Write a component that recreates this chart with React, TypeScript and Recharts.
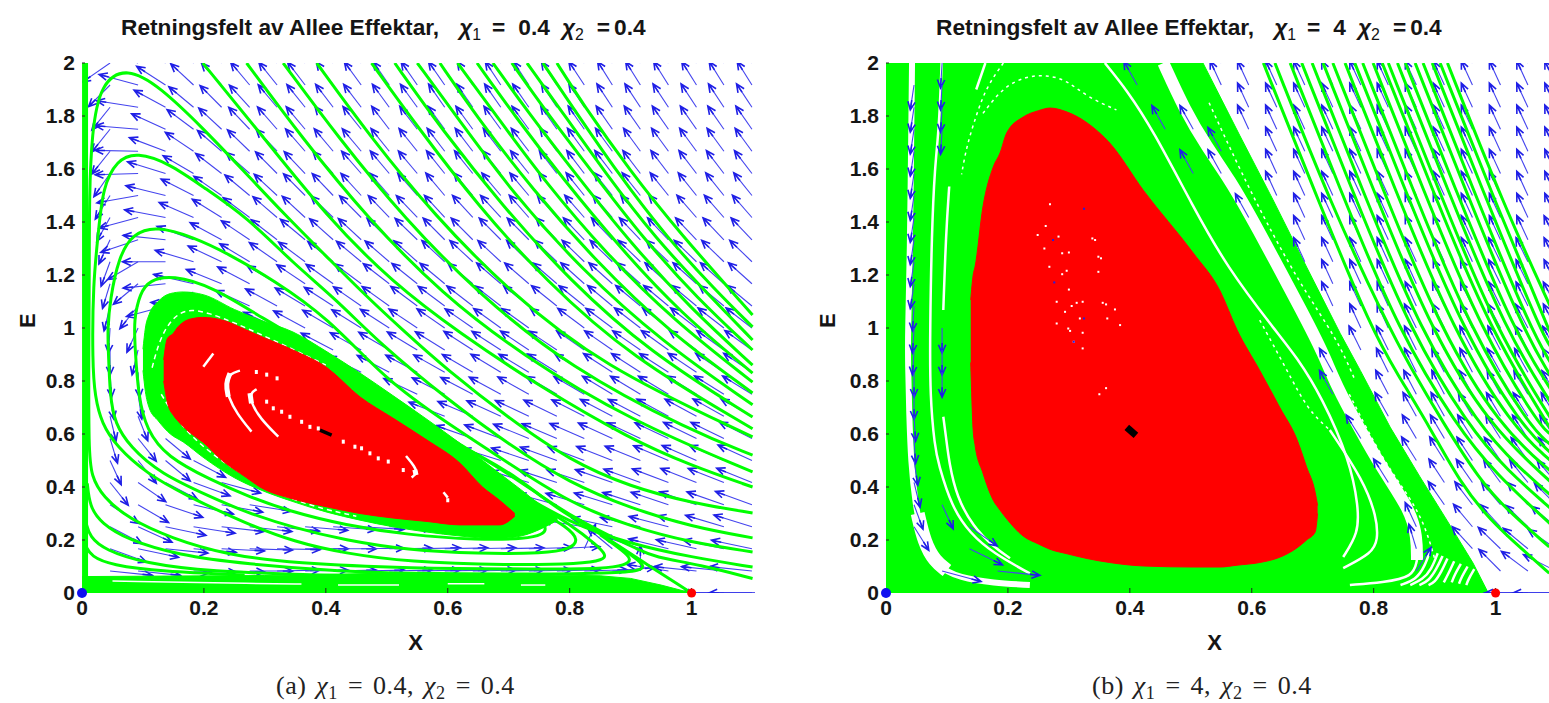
import { ComposedChart, Area, Line, Scatter, XAxis, YAxis, ReferenceDot } from 'recharts';

type Pt = [number, number];
const n = null;

const xTicks = [0, 0.2, 0.4, 0.6, 0.8, 1];
const yTicks = [0, 0.2, 0.4, 0.6, 0.8, 1, 1.2, 1.4, 1.6, 1.8, 2];

// quiver grid
const arrowXs = [0, 0.046, 0.092, 0.137, 0.183, 0.229, 0.275, 0.32, 0.366, 0.412, 0.458, 0.504, 0.55, 0.595, 0.641, 0.687, 0.733, 0.779, 0.824, 0.87, 0.916, 0.962, 1.008, 1.053, 1.099];
const arrowYs = [2, 1.917, 1.833, 1.75, 1.667, 1.583, 1.5, 1.417, 1.333, 1.25, 1.167, 1.083, 1, 0.917, 0.833, 0.75, 0.667, 0.583, 0.5, 0.417, 0.333, 0.25, 0.167, 0.083, 0];

// direction (degrees) per row, columns 1..24
const anglesA = [
  [-130, 150, 128, 120, 117, 115, 114, 113, 113, 112, 112, 112, 111, 111, 111, 111, 110, 110, 110, 110, 110, 110, 110, 110],
  [-120, 155, 132, 122, 118, 116, 115, 114, 113, 113, 112, 112, 112, 111, 111, 111, 111, 111, 110, 110, 110, 110, 110, 110],
  [-115, 165, 137, 125, 120, 118, 116, 115, 114, 114, 113, 113, 112, 112, 112, 112, 111, 111, 111, 111, 111, 111, 111, 111],
  [-115, 172, 142, 128, 122, 119, 117, 116, 115, 115, 114, 114, 113, 113, 113, 113, 112, 112, 112, 112, 112, 112, 112, 112],
  [-115, 178, 147, 131, 124, 121, 119, 117, 116, 116, 115, 115, 114, 114, 114, 114, 113, 113, 113, 113, 113, 113, 113, 113],
  [-112, 183, 152, 135, 127, 123, 120, 119, 118, 117, 116, 116, 115, 115, 115, 115, 114, 114, 114, 114, 114, 114, 114, 114],
  [-110, 197, 157, 139, 130, 125, 122, 120, 119, 118, 117, 117, 116, 116, 116, 116, 115, 115, 115, 115, 115, 115, 115, 115],
  [-108, 205, 162, 143, 133, 128, 124, 122, 121, 120, 119, 119, 118, 118, 118, 117, 117, 117, 117, 117, 117, 117, 117, 117],
  [-105, 210, 170, 148, 137, 131, 127, 125, 123, 122, 121, 121, 120, 120, 120, 120, 119, 119, 119, 119, 119, 119, 119, 119],
  [-102, 225, 180, 153, 141, 134, 130, 128, 126, 125, 124, 123, 122, 122, 122, 121, 121, 121, 121, 121, 121, 121, 121, 121],
  [-100, 235, 190, 158, 145, 138, 134, 131, 129, 128, 127, 126, 125, 125, 124, 124, 124, 123, 123, 123, 123, 123, 123, 123],
  [-98, 245, 205, 172, 150, 142, 137, 134, 132, 130, 129, 128, 128, 127, 127, 126, 126, 126, 125, 125, 125, 125, 125, 125],
  [-92, -105, -115, 180, 155, 147, 141, 137, 135, 133, 132, 131, 130, 130, 129, 129, 128, 128, 128, 127, 127, 127, 127, 127],
  [-90, -98, -100, n, n, n, n, 142, 138, 136, 135, 134, 133, 132, 132, 131, 131, 130, 130, 130, 129, 129, 129, 129],
  [-88, -88, -85, n, n, n, n, n, n, 140, 138, 137, 136, 135, 134, 134, 133, 133, 132, 132, 132, 131, 131, 131],
  [-85, -85, n, n, n, n, n, n, n, n, 142, 141, 139, 138, 137, 136, 135, 135, 134, 134, 134, 133, 133, 133],
  [-82, -77, n, n, n, n, n, n, n, n, n, n, 146, 144, 142, 141, 140, 139, 138, 138, 137, 137, 136, 136],
  [-80, -65, -55, n, n, n, n, n, n, n, n, n, n, 149, 147, 145, 144, 143, 142, 141, 141, 140, 140, 139],
  [-75, -65, -55, -42, n, n, n, n, n, n, n, n, n, n, 152, 150, 148, 147, 146, 145, 144, 143, 143, 142],
  [-65, -50, -42, -32, -25, n, n, n, n, n, n, n, n, n, n, 153, 151, 150, 149, 148, 147, 146, 146, 145],
  [-48, -45, -30, -22, -17, -15, n, n, n, n, n, n, n, n, n, n, 155, 153, 152, 151, 150, 149, 149, 148],
  [-42, -38, -20, -15, -11, -11, -10, -8, -7, -6, -5, -5, -4, -3, n, n, n, 165, 160, 158, 156, 154, 153, 152],
  [-32, -20, -10, -8, -5, -3, -2, 0, 0, 1, 1, 2, 2, 2, 2, 3, 5, 75, 125, 150, 157, 159, 160, 160],
  [-10, -10, -5, -3, -2, 0, 2, 2, 2, 2, 2, 2, 2, 2, 2, 2, 3, 3, 8, 90, 165, 170, 170, 170],
  [n, n, n, n, n, n, n, n, n, n, n, n, n, n, n, n, n, n, n, n, n, n, 180, 180],
];

const anglesB = [
  [n, n, n, n, n, n, n, n, n, n, n, 105, 105, 105, 105, 105, 105, 105, 105, 105, 105, 105, 105, 105],
  [n, n, n, n, n, n, n, n, n, n, n, 105, 105, 105, 105, 105, 105, 105, 105, 105, 105, 105, 105, 105],
  [n, n, n, n, n, n, n, n, n, n, n, n, 105, 105, 105, 105, 105, 105, 105, 105, 105, 105, 105, 105],
  [n, n, n, n, n, n, n, n, n, n, n, n, 105, 105, 105, 105, 105, 105, 105, 105, 105, 105, 105, 105],
  [n, n, n, n, n, n, n, n, n, n, n, n, n, 105, 105, 105, 105, 105, 105, 105, 105, 105, 105, 105],
  [n, n, n, n, n, n, n, n, n, n, n, n, n, 105, 105, 105, 105, 105, 105, 105, 105, 105, 105, 105],
  [n, n, n, n, n, n, n, n, n, n, n, n, n, 105, 105, 105, 105, 105, 105, 105, 105, 105, 105, 105],
  [n, n, n, n, n, n, n, n, n, n, n, n, n, n, 105, 105, 105, 105, 105, 105, 105, 105, 105, 105],
  [n, n, n, n, n, n, n, n, n, n, n, n, n, n, 105, 105, 105, 105, 105, 105, 105, 105, 105, 106],
  [n, n, n, n, n, n, n, n, n, n, n, n, n, n, 105, 105, 105, 105, 105, 105, 105, 106, 106, 106],
  [n, n, n, n, n, n, n, n, n, n, n, n, n, n, n, 105, 105, 105, 105, 105, 106, 106, 106, 106],
  [n, n, n, n, n, n, n, n, n, n, n, n, n, n, n, 105, 105, 105, 105, 106, 106, 106, 106, 107],
  [n, n, n, n, n, n, n, n, n, n, n, n, n, n, n, n, 105, 105, 106, 106, 106, 107, 107, 107],
  [n, n, n, n, n, n, n, n, n, n, n, n, n, n, n, n, 106, 106, 106, 106, 107, 107, 107, 108],
  [n, n, n, n, n, n, n, n, n, n, n, n, n, n, n, n, n, 106, 106, 107, 107, 108, 108, 108],
  [n, n, n, n, n, n, n, n, n, n, n, n, n, n, n, n, n, 107, 107, 107, 108, 108, 109, 109],
  [n, n, n, n, n, n, n, n, n, n, n, n, n, n, n, n, n, 108, 108, 108, 109, 109, 110, 110],
  [n, n, n, n, n, n, n, n, n, n, n, n, n, n, n, n, n, n, 109, 109, 110, 110, 111, 112],
  [n, n, n, n, n, n, n, n, n, n, n, n, n, n, n, n, n, n, 110, 110, 111, 112, 113, 114],
  [n, n, n, n, n, n, n, n, n, n, n, n, n, n, n, n, n, n, n, 111, 112, 113, 115, 116],
  [n, n, n, n, n, n, n, n, n, n, n, n, n, n, n, n, n, n, n, 112, 114, 116, 118, 120],
  [n, n, n, n, n, n, n, n, n, n, n, n, n, n, n, n, n, n, n, n, 116, 118, 121, 125],
  [n, n, n, n, n, n, n, n, n, n, n, n, n, n, n, n, n, n, n, n, 118, 121, 125, 130],
  [n, n, n, n, n, n, n, n, n, n, n, n, n, n, n, n, n, n, n, n, n, 120, 128, 139],
  [n, n, n, n, n, n, n, n, n, n, n, n, n, n, n, n, n, n, n, n, n, n, 180, 180],
];

// arrows that show through the white gaps of panel b: x, y, angle
const gapArrowsB = [
  [0.046, 1.917, -95], [0.046, 1.833, -95], [0.046, 1.75, -95], [0.046, 1.667, -95], [0.046, 1.583, -95], [0.046, 1.5, -95], [0.046, 1.417, -95],
  [0.046, 1.333, -95], [0.046, 1.25, -95], [0.046, 1.167, -95], [0.046, 1.083, -92], [0.046, 1, -92], [0.046, 0.917, -92], [0.046, 0.833, -90],
  [0.046, 0.75, -90], [0.046, 0.667, -88], [0.046, 0.583, -88], [0.046, 0.5, -85], [0.046, 0.417, -82], [0.046, 0.333, -78], [0.046, 0.25, -70],
  [0.092, 2, -92], [0.092, 1.917, -92], [0.092, 1.833, -92], [0.092, 1.75, -92], [0.092, 1, -90], [0.092, 0.917, -90], [0.092, 0.833, -90],
  [0.092, 0.333, -75], [0.137, 0.25, -50], [0.137, 0.167, -40], [0.092, 0.083, -25], [0.183, 0.083, -10],
  [0.412, 1.917, 108], [0.458, 1.75, 108], [0.504, 1.75, 108], [0.504, 1.583, 108], [0.55, 1.583, 108], [0.55, 1.667, 108], [0.595, 1.417, 108],
  [0.733, 0.833, 108], [0.733, 0.75, 108], [0.779, 0.583, 110], [0.824, 0.417, 110], [0.87, 0.25, 105], [0.87, 0.167, 100], [0.87, 0.083, 70],
];

// panel a: trajectories coming down from the top edge
const topLinesA: Pt[][] = [
  [[0.198, 2], [0.292, 1.736], [0.402, 1.419], [0.51, 1.17], [0.62, 0.98], [0.75, 0.78], [0.9, 0.58], [1, 0.48], [1.1, 0.4]],
  [[0.27, 2], [0.36, 1.72], [0.47, 1.41], [0.59, 1.13], [0.72, 0.9], [0.9, 0.65], [1.1, 0.457]],
  [[0.33, 2], [0.42, 1.72], [0.53, 1.41], [0.65, 1.13], [0.8, 0.85], [1, 0.61], [1.1, 0.52]],
  [[0.385, 2], [0.47, 1.73], [0.58, 1.42], [0.7, 1.14], [0.85, 0.86], [1.1, 0.589]],
  [[0.475, 2], [0.55, 1.76], [0.65, 1.46], [0.76, 1.18], [0.9, 0.89], [1.1, 0.62]],
  [[0.513, 2], [0.59, 1.75], [0.69, 1.46], [0.8, 1.18], [0.93, 0.91], [1.1, 0.664]],
  [[0.55, 2], [0.62, 1.78], [0.71, 1.5], [0.82, 1.22], [0.95, 0.95], [1.1, 0.71]],
  [[0.587, 2], [0.65, 1.79], [0.74, 1.52], [0.84, 1.26], [0.96, 0.99], [1.1, 0.755]],
  [[0.616, 2], [0.68, 1.8], [0.76, 1.55], [0.86, 1.28], [0.97, 1.03], [1.1, 0.796]],
  [[0.648, 2], [0.71, 1.8], [0.79, 1.56], [0.88, 1.31], [0.98, 1.06], [1.1, 0.83]],
  [[0.674, 2], [0.73, 1.82], [0.81, 1.58], [0.9, 1.32], [1, 1.07], [1.1, 0.86]],
  [[0.705, 2], [0.76, 1.82], [0.84, 1.58], [0.92, 1.34], [1.01, 1.11], [1.1, 0.917]],
  [[0.73, 2], [0.78, 1.84], [0.86, 1.58], [0.94, 1.34], [1.03, 1.12], [1.1, 0.955]],
  [[0.756, 2], [0.8, 1.85], [0.88, 1.58], [0.96, 1.34], [1.04, 1.14], [1.1, 1.004]],
  [[0.779, 2], [0.82, 1.85], [0.9, 1.59], [0.98, 1.36], [1.1, 1.049]],
];

// panel a: curves that peak on the left, fold down and run along the bottom
const foldLinesA: Pt[][] = [
  [[1.1, 0.302], [1, 0.34], [0.9, 0.4], [0.8, 0.5], [0.7, 0.66], [0.6, 0.84], [0.526, 0.992], [0.456, 1.143], [0.402, 1.268], [0.336, 1.419], [0.259, 1.608], [0.198, 1.755], [0.128, 1.91], [0.074, 1.985], [0.03, 1.925], [0.016, 1.735], [0.012, 1.5], [0.012, 1.2], [0.011, 0.9], [0.011, 0.54], [0.0153, 0.439], [0.0344, 0.363], [0.0755, 0.282], [0.1465, 0.2063], [0.2395, 0.143], [0.349, 0.1119], [0.5348, 0.0931], [0.75, 0.09], [0.86, 0.092], [0.89, 0.105], [0.902, 0.125], [0.89, 0.155], [0.85, 0.22]],
  [[1.1, 0.208], [1, 0.25], [0.9, 0.32], [0.8, 0.415], [0.7, 0.56], [0.6, 0.73], [0.489, 0.94], [0.418, 1.106], [0.346, 1.245], [0.27, 1.42], [0.198, 1.533], [0.144, 1.62], [0.09, 1.664], [0.057, 1.634], [0.034, 1.53], [0.027, 1.36], [0.018, 1.17], [0.017, 0.867], [0.0213, 0.741], [0.0322, 0.64], [0.057, 0.552], [0.106, 0.451], [0.169, 0.37], [0.267, 0.264], [0.349, 0.192], [0.431, 0.15], [0.534, 0.117], [0.7, 0.105], [0.82, 0.11], [0.855, 0.125], [0.86, 0.143], [0.845, 0.18], [0.8, 0.26], [0.75, 0.33], [0.7, 0.4]],
  [[1.1, 0.155], [1, 0.19], [0.9, 0.25], [0.8, 0.34], [0.7, 0.49], [0.6, 0.64], [0.5, 0.8], [0.402, 1.042], [0.314, 1.181], [0.238, 1.283], [0.182, 1.343], [0.123, 1.385], [0.084, 1.358], [0.06, 1.268], [0.046, 1.106], [0.042, 0.992], [0.043, 0.93], [0.0459, 0.741], [0.054, 0.64], [0.0787, 0.552], [0.1279, 0.451], [0.212, 0.362], [0.267, 0.306], [0.349, 0.245], [0.431, 0.2], [0.534, 0.162], [0.65, 0.148], [0.76, 0.15], [0.8, 0.165], [0.816, 0.2], [0.795, 0.25], [0.75, 0.31], [0.7, 0.38]],
  [[1.1, 0.098], [1, 0.135], [0.9, 0.185], [0.8, 0.264], [0.7, 0.4], [0.6, 0.566], [0.5, 0.74], [0.4, 0.9], [0.292, 1.042], [0.215, 1.155], [0.148, 1.2], [0.111, 1.181], [0.095, 1.132], [0.085, 1.03], [0.0869, 0.93], [0.0924, 0.741], [0.106, 0.615], [0.1388, 0.514], [0.212, 0.426], [0.267, 0.37], [0.343, 0.306], [0.431, 0.257], [0.534, 0.219], [0.65, 0.2], [0.73, 0.205], [0.755, 0.22], [0.764, 0.245], [0.745, 0.29], [0.7, 0.36], [0.65, 0.44]],
  [[1.1, 0.055], [1.014, 0.106], [0.937, 0.137], [0.915, 0.162], [0.87, 0.21], [0.81, 0.28], [0.75, 0.37], [0.7, 0.45], [0.62, 0.56], [0.55, 0.66]],
  [[0.997, 0.004], [0.903, 0.143], [0.849, 0.226], [0.805, 0.283], [0.767, 0.34], [0.713, 0.438], [0.657, 0.513], [0.603, 0.577]],
  [[0.0087, 0.414], [0.0126, 0.326], [0.0317, 0.2629], [0.0755, 0.2], [0.1575, 0.143], [0.2668, 0.1094], [0.431, 0.0805], [0.5348, 0.0742], [0.7, 0.07], [0.88, 0.075], [0.915, 0.085], [0.923, 0.1], [0.91, 0.13], [0.87, 0.19]],
  [[0.007, 0.2629], [0.0126, 0.2126], [0.0372, 0.1623], [0.1028, 0.1119], [0.212, 0.0805], [0.376, 0.068], [0.5348, 0.0591]],
  [[0.0055, 0.18], [0.0153, 0.1371], [0.048, 0.1057], [0.13, 0.0805], [0.2668, 0.068]],
];

const axisBarA: Pt[] = [[0.005, 0], [0.005, 2]];
const bottomBandA = [[0, 0, 0.062], [0.3, 0, 0.066], [0.5, 0, 0.075], [0.7, 0, 0.07], [0.85, 0, 0.065], [0.9, 0, 0.055], [0.95, 0, 0.03], [1, 0, 0]];
const bottomDashesA: Pt[][] = [
  [[0.05, 0.045], [0.3, 0.035], [0.36, 0.034]],
  [[0.42, 0.03], [0.52, 0.03]],
  [[0.6, 0.035], [0.66, 0.035]],
  [[0.72, 0.03], [0.76, 0.03]],
];
const ringA = [[0.1, 0.84, 0.92], [0.104, 0.76, 1], [0.11, 0.7, 1.05], [0.125, 0.65, 1.1], [0.145, 0.6, 1.13], [0.166, 0.57, 1.136], [0.2, 0.51, 1.125], [0.25, 0.435, 1.07], [0.292, 0.39, 1.03], [0.346, 0.345, 0.985], [0.402, 0.305, 0.91], [0.456, 0.275, 0.83], [0.51, 0.25, 0.745], [0.566, 0.23, 0.655], [0.62, 0.215, 0.565], [0.68, 0.205, 0.46], [0.72, 0.215, 0.39], [0.76, 0.25, 0.32], [0.78, 0.275, 0.295]];
const ringGapsA: Pt[][] = [
  [[0.115, 0.85], [0.13, 0.98], [0.16, 1.07], [0.2, 1.07], [0.3, 0.97], [0.4, 0.86]],
  [[0.13, 0.75], [0.17, 0.6], [0.25, 0.46], [0.35, 0.34], [0.45, 0.29]],
];
const redA = [[0.134, 0.8, 0.88], [0.14, 0.72, 0.96], [0.15, 0.67, 0.98], [0.156, 0.653, 1], [0.165, 0.63, 1.02], [0.18, 0.6, 1.035], [0.198, 0.57, 1.04], [0.23, 0.5, 1.03], [0.27, 0.435, 0.992], [0.292, 0.4, 0.97], [0.346, 0.355, 0.917], [0.402, 0.325, 0.85], [0.456, 0.3, 0.74], [0.51, 0.283, 0.66], [0.566, 0.27, 0.577], [0.62, 0.257, 0.49], [0.657, 0.257, 0.4], [0.685, 0.257, 0.35], [0.71, 0.29, 0.3]];
const whiteArcsA: Pt[][] = [
  [[0.278, 0.609], [0.2537, 0.678], [0.24, 0.741], [0.2356, 0.791], [0.2428, 0.829], [0.2591, 0.839]],
  [[0.322, 0.59], [0.292, 0.659], [0.278, 0.716], [0.2755, 0.754], [0.2865, 0.769]],
  [[0.5315, 0.517], [0.546, 0.477], [0.55, 0.451], [0.5407, 0.436]],
  [[0.199, 0.854], [0.2154, 0.904]],
  [[0.593, 0.38], [0.6, 0.36]],
];
const whiteCrescentsA: Pt[][] = [
  [[0.24, 0.741], [0.2356, 0.791], [0.2428, 0.829]],
  [[0.278, 0.716], [0.2755, 0.754]],
  [[0.546, 0.465], [0.548, 0.445]],
];
const whiteDotsA: Pt[] = [[0.286, 0.834], [0.303, 0.824], [0.32, 0.81], [0.3029, 0.722], [0.3138, 0.697], [0.3275, 0.684], [0.3411, 0.665], [0.3603, 0.646], [0.3739, 0.627], [0.3876, 0.621], [0.4286, 0.571], [0.4477, 0.552], [0.4586, 0.546], [0.4723, 0.527], [0.486, 0.508], [0.5024, 0.496], [0.527, 0.464], [0.6, 0.35]];
const blackA: Pt[] = [[0.3904, 0.615], [0.4095, 0.596]];
const equilibriumLineA: Pt[] = [[1, 0], [1.104, 0]];

// panel b
const bigBandB = [[0, 0, 2], [0.52, 0, 2], [0.58, 0, 1.728], [0.635, 0, 1.483], [0.69, 0, 1.23], [0.745, 0, 0.98], [0.778, 0, 0.84], [0.827, 0, 0.626], [0.876, 0, 0.438], [0.92, 0, 0.275], [0.963, 0, 0.113], [0.988, 0, 0]];
const redB = [[0.139, 0.87, 1.106], [0.143, 0.615, 1.2], [0.146, 0.56, 1.23], [0.159, 0.453, 1.457], [0.176, 0.35, 1.608], [0.187, 0.313, 1.66], [0.198, 0.28, 1.736], [0.225, 0.215, 1.796], [0.25, 0.185, 1.82], [0.269, 0.165, 1.83], [0.297, 0.148, 1.815], [0.33, 0.13, 1.774], [0.367, 0.115, 1.698], [0.422, 0.102, 1.52], [0.504, 0.098, 1.283], [0.548, 0.098, 1.14], [0.576, 0.105, 0.992], [0.613, 0.115, 0.84], [0.646, 0.135, 0.7], [0.674, 0.17, 0.58], [0.69, 0.2, 0.475], [0.704, 0.23, 0.38], [0.708, 0.3, 0.33]];
const stripLeftB: Pt[] = [[0.0427, 2], [0.039, 1.22], [0.036, 0.992], [0.036, 0.868], [0.038, 0.68], [0.041, 0.49], [0.048, 0.34], [0.059, 0.2], [0.084, 0.098], [0.121, 0.057], [0.176, 0.038], [0.236, 0.03]];
const stripBendB: Pt[] = [[0.052, 0.3], [0.063, 0.19], [0.08, 0.12], [0.1, 0.085]];
const gapDiagB: Pt[] = [[0.455, 2], [0.49, 1.823], [0.526, 1.684], [0.564, 1.559], [0.602, 1.408], [0.69, 1.03], [0.717, 0.905], [0.74, 0.777], [0.772, 0.64], [0.815, 0.464], [0.86, 0.313], [0.871, 0.211], [0.871, 0.125]];
const thinGapsB: Pt[][] = [
  [[0.0913, 2], [0.087, 1.75], [0.08, 1.608], [0.075, 1.357], [0.0722, 0.993], [0.0722, 0.74], [0.08, 0.552], [0.0858, 0.489], [0.1077, 0.325], [0.1378, 0.225], [0.176, 0.15], [0.236, 0.074]],
  [[0.359, 2], [0.395, 1.898], [0.438, 1.747], [0.504, 1.457], [0.559, 1.231], [0.638, 0.992], [0.674, 0.89], [0.715, 0.74], [0.761, 0.5], [0.775, 0.325], [0.775, 0.226], [0.75, 0.136]],
  [[0.728, 0.615], [0.783, 0.426], [0.805, 0.287], [0.807, 0.2], [0.797, 0.15], [0.75, 0.094]],
  [[0.871, 0.125], [0.865, 0.06], [0.815, 0.04], [0.761, 0.03]],
  [[0.094, 0.665], [0.0984, 0.59], [0.1037, 0.489], [0.116, 0.363], [0.143, 0.25], [0.176, 0.175], [0.2034, 0.131]],
  [[0.1037, 1.534], [0.0984, 1.357], [0.094, 1.068]],
  [[0.163, 2], [0.148, 1.9]],
];
const dottedGapsB: Pt[][] = [
  [[0.1925, 2], [0.165, 1.91], [0.149, 1.81], [0.132, 1.684], [0.124, 1.58]],
  [[0.159, 1.81], [0.1925, 1.91], [0.23, 1.95], [0.263, 1.955], [0.2963, 1.936], [0.329, 1.873], [0.378, 1.823]],
  [[0.613, 1.03], [0.658, 0.84], [0.692, 0.69], [0.728, 0.615]],
  [[0.76, 0.75], [0.815, 0.5], [0.86, 0.36], [0.885, 0.25], [0.9, 0.13]],
  [[0.53, 1.85], [0.6, 1.5], [0.68, 1.16], [0.74, 0.96], [0.77, 0.8]],
];
const fingersB: Pt[][] = [
  [[0.894, 0.17], [0.884, 0.1], [0.869, 0.05], [0.844, 0.03]],
  [[0.905, 0.15], [0.895, 0.09], [0.88, 0.05], [0.86, 0.03]],
  [[0.913, 0.14], [0.903, 0.09], [0.89, 0.045], [0.875, 0.03]],
  [[0.921, 0.13], [0.911, 0.08], [0.9, 0.04], [0.89, 0.03]],
  [[0.932, 0.12], [0.922, 0.07], [0.915, 0.04]],
  [[0.943, 0.11], [0.933, 0.07], [0.928, 0.04]],
  [[0.954, 0.1], [0.944, 0.06], [0.94, 0.035]],
  [[0.965, 0.09], [0.955, 0.05], [0.952, 0.03]],
];
const rightLinesB: Pt[][] = [
  [[0.619, 2], [0.712, 1.464], [0.797, 0.992], [0.838, 0.83], [0.892, 0.626], [0.942, 0.415], [0.991, 0.275], [1.045, 0.162], [1.088, 0.075]],
  [[0.638, 2], [0.731, 1.46], [0.819, 1.03], [0.86, 0.853], [0.914, 0.642], [0.974, 0.426], [1.019, 0.313], [1.088, 0.174]],
  [[0.663, 2], [0.756, 1.46], [0.841, 0.99], [0.936, 0.63], [1, 0.45], [1.09, 0.26]],
  [[0.682, 2], [0.775, 1.46], [0.86, 0.99], [0.955, 0.63], [1.02, 0.46], [1.09, 0.32]],
  [[0.699, 2], [0.792, 1.46], [0.877, 0.99], [0.972, 0.63], [1.04, 0.47], [1.09, 0.37]],
  [[0.717, 2], [0.81, 1.46], [0.895, 0.99], [0.99, 0.63], [1.09, 0.42]],
  [[0.733, 2], [0.826, 1.46], [0.911, 0.99], [1.006, 0.63], [1.09, 0.46]],
  [[0.753, 2], [0.846, 1.46], [0.931, 0.99], [1.026, 0.63], [1.09, 0.5]],
  [[0.769, 2], [0.862, 1.46], [0.947, 0.99], [1.042, 0.63], [1.09, 0.53]],
  [[0.782, 2], [0.875, 1.46], [0.96, 0.99], [1.055, 0.63], [1.09, 0.56]],
  [[0.799, 2], [0.892, 1.46], [0.977, 0.99], [1.072, 0.63], [1.09, 0.6]],
  [[0.814, 2], [0.907, 1.46], [0.992, 0.99], [1.09, 0.62]],
  [[0.824, 2], [0.917, 1.46], [1.002, 0.99], [1.09, 0.66]],
  [[0.839, 2], [0.932, 1.46], [1.017, 0.99], [1.09, 0.72]],
  [[0.852, 2], [0.945, 1.46], [1.03, 0.99], [1.09, 0.77]],
  [[0.868, 2], [0.961, 1.46], [1.046, 0.99], [1.09, 0.82]],
  [[0.881, 2], [0.974, 1.46], [1.059, 0.99], [1.09, 0.87]],
  [[0.896, 2], [0.989, 1.46], [1.074, 0.99], [1.09, 0.93]],
  [[0.909, 2], [1.002, 1.46], [1.09, 0.98]],
  [[0.921, 2], [1.014, 1.46], [1.09, 1.08]],
];
const whiteDotsB: Pt[] = [[0.269, 1.467], [0.262, 1.385], [0.2488, 1.351], [0.283, 1.345], [0.3385, 1.338], [0.343, 1.332], [0.2598, 1.3], [0.289, 1.282], [0.3, 1.285], [0.3484, 1.269], [0.3527, 1.263], [0.268, 1.231], [0.2964, 1.216], [0.289, 1.203], [0.3484, 1.212], [0.3, 1.145], [0.28, 1.099], [0.3128, 1.095], [0.3226, 1.099], [0.3046, 1.083], [0.3555, 1.095], [0.361, 1.089], [0.3756, 1.07], [0.2937, 1.061], [0.28, 1.017], [0.318, 1.036], [0.363, 1.036], [0.384, 1.011], [0.299, 0.998], [0.302, 0.989], [0.3226, 0.982], [0.308, 0.948], [0.3226, 0.923], [0.361, 0.773], [0.35, 0.75]];
const blueDotsB: Pt[] = [[0.274, 1.332], [0.276, 1.172], [0.3248, 1.45], [0.3248, 1.036], [0.308, 0.948]];
const blackB: Pt[] = [[0.395, 0.625], [0.41, 0.595]];
const equilibriumLineB: Pt[] = [[0.98, 0], [1.09, 0]];

const pts = (a: Pt[]) => a.map(([x, y]) => ({ x, y }));
const bands = (a: number[][]) => a.map(([x, lo, hi]) => ({ x, band: [lo, hi] }));
const arrowsFrom = (rows: (number | null)[][]) =>
  rows.flatMap((row, j) =>
    row.flatMap((angle, i) => (angle === null ? [] : [{ x: arrowXs[i + 1], y: arrowYs[j], angle }])),
  );

const GREEN = '#00ff00';
const RED = '#ff0000';
const BLUE = '#1f1fe6';

function Arrow({ cx, cy, payload }: any) {
  const t = (payload.angle * Math.PI) / 180;
  const dx = 43 * Math.cos(t);
  const dy = -25 * Math.sin(t);
  const len = Math.hypot(dx, dy);
  const ux = dx / len;
  const uy = dy / len;
  const tx = cx + dx;
  const ty = cy + dy;
  const b = 9;
  const c = Math.cos(0.42);
  const s = Math.sin(0.42);
  return (
    <g fill="none">
      <path d={`M${cx} ${cy}L${tx} ${ty}`} stroke="#4444ee" strokeWidth={1.1} />
      <path
        d={`M${tx - b * (ux * c - uy * s)} ${ty - b * (uy * c + ux * s)}L${tx} ${ty}L${tx - b * (ux * c + uy * s)} ${ty - b * (uy * c - ux * s)}M${tx} ${ty}L${tx - b * 1.1 * ux} ${ty - b * 1.1 * uy}`}
        stroke={BLUE}
        strokeWidth={1.6}
      />
    </g>
  );
}
const Speck = ({ cx, cy, fill }: any) => <rect x={cx - 1} y={cy - 1} width={2} height={2} fill={fill} />;
const BigSpeck = ({ cx, cy, fill }: any) => <rect x={cx - 1.5} y={cy - 2} width={3} height={4} fill={fill} />;

const tickStyle = { fontFamily: 'Liberation Sans', fontWeight: 700, fontSize: 21, fill: '#151515' };
const axisLabel = { fontFamily: 'Liberation Sans', fontWeight: 700, fontSize: 22, fill: '#151515' };

function lineItems(sets: Pt[][], stroke: string, strokeWidth: number, zIndex: number, key: string, dash?: string, type = 'basis') {
  return sets.map((s, k) => (
    <Line
      key={`${key}${k}`}
      data={pts(s)}
      dataKey="y"
      type={type as any}
      stroke={stroke}
      strokeWidth={strokeWidth}
      strokeDasharray={dash}
      dot={false}
      activeDot={false}
      isAnimationActive={false}
      zIndex={zIndex}
    />
  ));
}

function areaItem(data: number[][], fill: string, zIndex: number, key: string, type = 'linear') {
  return (
    <Area
      key={key}
      data={bands(data)}
      dataKey="band"
      type={type as any}
      fill={fill}
      fillOpacity={1}
      stroke={fill}
      strokeWidth={1}
      dot={false}
      activeDot={false}
      isAnimationActive={false}
      zIndex={zIndex}
    />
  );
}

function axes(xMax: number, yWidth: number) {
  return [
    <XAxis
      key="x"
      type="number"
      dataKey="x"
      domain={[0, xMax]}
      ticks={xTicks}
      interval={0}
      allowDataOverflow
      axisLine={false}
      tickSize={-5}
      tickMargin={12}
      tick={tickStyle}
      tickLine={{ stroke: '#222' }}
      height={67}
      label={{ value: 'X', position: 'insideBottom', offset: 10, dx: -3, style: axisLabel }}
    />,
    <YAxis
      key="y"
      type="number"
      dataKey="y"
      domain={[0, 2]}
      ticks={yTicks}
      interval={0}
      allowDataOverflow
      axisLine={false}
      tickSize={-3}
      tickMargin={10}
      tick={tickStyle}
      tickLine={{ stroke: '#222' }}
      width={yWidth}
      label={{ value: 'E', angle: -90, position: 'insideLeft', offset: 27, style: axisLabel }}
    />,
  ];
}

function PanelA() {
  return (
    <ComposedChart width={770} height={660} margin={{ top: 63, right: 15, bottom: 0, left: 0 }} data={[]}>
      {axes(1.104, 82)}
      <Scatter data={arrowsFrom(anglesA)} dataKey="y" shape={Arrow} isAnimationActive={false} zIndex={50} />
      {lineItems([equilibriumLineA], BLUE, 1.5, 60, 'eq')}
      {lineItems(topLinesA, GREEN, 3, 100, 'top')}
      {lineItems(foldLinesA, GREEN, 3, 100, 'fold')}
      {lineItems([axisBarA], GREEN, 6, 100, 'bar', undefined, 'linear')}
      {areaItem(bottomBandA, GREEN, 110, 'bottom')}
      {areaItem(ringA, GREEN, 110, 'ring', 'monotoneX')}
      {lineItems(bottomDashesA, '#ffffff', 1.5, 120, 'dash')}
      {lineItems(ringGapsA, '#ffffff', 1.5, 120, 'ringgap', '5 4')}
      {areaItem(redA, RED, 130, 'red', 'monotoneX')}
      {lineItems(whiteArcsA, '#ffffff', 2.5, 140, 'arc')}
      {lineItems(whiteCrescentsA, '#ffffff', 5, 140, 'crescent')}
      <Scatter data={pts(whiteDotsA)} dataKey="y" fill="#ffffff" shape={BigSpeck} isAnimationActive={false} zIndex={150} />
      {lineItems([blackA], '#000000', 3.5, 160, 'black', undefined, 'linear')}
      <ReferenceDot x={0} y={0} r={5} fill="#1010f0" stroke="none" />
      <ReferenceDot x={1} y={0} r={4.5} fill={RED} stroke="none" />
    </ComposedChart>
  );
}

function PanelB() {
  return (
    <ComposedChart width={749} height={660} margin={{ top: 63, right: 0, bottom: 0, left: 0 }} data={[]}>
      {axes(1.0876, 86)}
      {areaItem(bigBandB, GREEN, 100, 'big')}
      {lineItems([stripLeftB], '#ffffff', 6, 200, 'strip')}
      {lineItems([stripBendB], '#ffffff', 14, 200, 'bend')}
      {lineItems([gapDiagB], '#ffffff', 12, 200, 'diag')}
      {lineItems(thinGapsB, '#ffffff', 2.5, 200, 'thin')}
      {lineItems(dottedGapsB, '#ffffff', 1.5, 200, 'dotted', '3 4')}
      {lineItems(fingersB, '#ffffff', 2.5, 200, 'finger')}
      <Scatter data={arrowsFrom(anglesB)} dataKey="y" shape={Arrow} isAnimationActive={false} zIndex={300} />
      <Scatter data={gapArrowsB.map(([x, y, angle]) => ({ x, y, angle }))} dataKey="y" shape={Arrow} isAnimationActive={false} zIndex={300} />
      {lineItems(rightLinesB, GREEN, 3, 400, 'right')}
      {lineItems([equilibriumLineB], BLUE, 1.5, 410, 'eq')}
      {areaItem(redB, RED, 450, 'red', 'monotoneX')}
      <Scatter data={pts(whiteDotsB)} dataKey="y" fill="#ffffff" shape={Speck} isAnimationActive={false} zIndex={470} />
      <Scatter data={pts(blueDotsB)} dataKey="y" fill={BLUE} shape={Speck} isAnimationActive={false} zIndex={470} />
      {lineItems([blackB], '#000000', 7, 480, 'black', undefined, 'linear')}
      <ReferenceDot x={0} y={0} r={5} fill="#1010f0" stroke="none" />
      <ReferenceDot x={1} y={0} r={4.5} fill={RED} stroke="none" />
    </ComposedChart>
  );
}

const titleStyle: React.CSSProperties = {
  position: 'absolute',
  top: 14,
  fontFamily: 'Liberation Sans',
  fontWeight: 700,
  fontSize: 22.7,
  color: '#151515',
  whiteSpace: 'pre',
};
const captionStyle: React.CSSProperties = {
  position: 'absolute',
  top: 671,
  fontFamily: 'Liberation Serif',
  fontSize: 26,
  letterSpacing: 0.5,
  wordSpacing: 3,
  color: '#222',
  whiteSpace: 'pre',
};
const subStyle: React.CSSProperties = { fontSize: '0.7em', fontWeight: 400, verticalAlign: '-0.3em', lineHeight: 1 };

function Chi({ i, ml = 0 }: { i: number; ml?: number }) {
  return (
    <span style={{ marginLeft: ml }}>
      <span style={{ fontStyle: 'italic' }}>χ</span>
      <span style={subStyle}>{i}</span>
    </span>
  );
}

export default function App() {
  return (
    <div style={{ position: 'absolute', left: 0, top: 0, width: 1549, height: 703, overflow: 'hidden', background: '#fff' }}>
      <div style={{ position: 'absolute', left: 0, top: 0 }}>
        <PanelA />
      </div>
      <div style={{ position: 'absolute', left: 800, top: 0 }}>
        <PanelB />
      </div>
      <div style={{ ...titleStyle, left: 121 }}>
        Retningsfelt av Allee Effektar,
        <Chi i={1} ml={20} />
        <span style={{ marginLeft: 11 }}>=</span>
        <span style={{ marginLeft: 13 }}>0.4</span>
        <Chi i={2} ml={12} />
        <span style={{ marginLeft: 13 }}>=</span>
        <span style={{ marginLeft: 4 }}>0.4</span>
      </div>
      <div style={{ ...titleStyle, left: 936 }}>
        Retningsfelt av Allee Effektar,
        <Chi i={1} ml={20} />
        <span style={{ marginLeft: 11 }}>=</span>
        <span style={{ marginLeft: 13 }}>4</span>
        <Chi i={2} ml={12} />
        <span style={{ marginLeft: 13 }}>=</span>
        <span style={{ marginLeft: 4 }}>0.4</span>
      </div>
      <div style={{ ...captionStyle, left: 276 }}>
        (a) <Chi i={1} /> = 0.4, <Chi i={2} /> = 0.4
      </div>
      <div style={{ ...captionStyle, left: 1092 }}>
        (b) <Chi i={1} /> = 4, <Chi i={2} /> = 0.4
      </div>
    </div>
  );
}
